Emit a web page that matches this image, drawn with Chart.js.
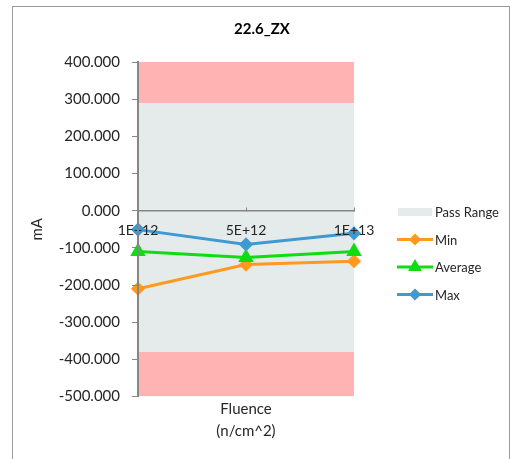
<!DOCTYPE html>
<html>
<head>
<meta charset="utf-8">
<script src="https://cdn.jsdelivr.net/npm/chart.js@4/dist/chart.umd.min.js"></script>
<style>
  html, body { margin: 0; padding: 0; background: #ffffff; }
  #wrap { position: relative; width: 517px; height: 459px; }
</style>
</head>
<body>
<div id="wrap"><canvas id="c" width="517" height="459"></canvas></div>
<script>
// Fluence levels on the x axis
const categories = ['1E+12', '5E+12', '1E+13'];

// Measured current (mA) per fluence level
const minValues = [-210, -145, -136];
const avgValues = [-110, -126, -110];
const maxValues = [-51, -91, -61];

// Pass limits (mA) and y-axis range
const passHigh = 290;
const passLow = -380;
const axisMin = -500;
const axisMax = 400;
const axisStep = 100;

const FONT = 'Lato, "Open Sans", sans-serif';
const TEXT = '#262626';

const flat = v => categories.map(() => v);

// Outer frame around the whole chart
const framePlugin = {
  id: 'frame',
  beforeDraw(chart) {
    const ctx = chart.ctx;
    ctx.save();
    ctx.fillStyle = '#ffffff';
    ctx.fillRect(0, 0, chart.width, chart.height);
    ctx.strokeStyle = '#9a9a9a';
    ctx.lineWidth = 1;
    ctx.strokeRect(12.5, 6.5, 497, 470);
    ctx.restore();
  }
};

// Legend on the right: a swatch for the pass band, line + marker for series
const sideLegend = {
  id: 'sideLegend',
  afterDraw(chart) {
    const ctx = chart.ctx;
    const x0 = 397, x1 = 433, tx = 435;
    let y = 212;
    const rowGap = 27.5;
    ctx.save();
    ctx.font = '13px ' + FONT;
    ctx.textBaseline = 'middle';
    ctx.textAlign = 'left';
    chart.data.datasets.forEach(ds => {
      if (!ds.label) return;
      if (ds.legendKind === 'band') {
        ctx.fillStyle = ds.backgroundColor;
        ctx.fillRect(x0 + 1, y - 4, x1 - x0 - 2, 8);
      } else {
        ctx.strokeStyle = ds.borderColor;
        ctx.lineWidth = 3;
        ctx.beginPath();
        ctx.moveTo(x0, y);
        ctx.lineTo(x1, y);
        ctx.stroke();
        ctx.fillStyle = ds.borderColor;
        ctx.strokeStyle = ds.borderColor;
        Chart.helpers.drawPoint(ctx, {
          pointStyle: ds.pointStyle,
          radius: ds.pointStyle === 'triangle' ? 5 : 4,
          rotation: 0,
          borderWidth: 1
        }, (x0 + x1) / 2, y);
      }
      ctx.fillStyle = TEXT;
      ctx.fillText(ds.label, tx, y + 1);
      y += rowGap;
    });
    ctx.restore();
  }
};

const PINK = '#ffb3b3';
const PASS = '#e5ebeb';

new Chart(document.getElementById('c'), {
  type: 'line',
  data: {
    labels: categories,
    datasets: [
      {
        data: flat(axisMax), fill: { value: passHigh }, backgroundColor: PINK,
        borderWidth: 0, pointRadius: 0, order: 10
      },
      {
        label: 'Pass Range', legendKind: 'band',
        data: flat(passHigh), fill: { value: passLow }, backgroundColor: PASS,
        borderWidth: 0, pointRadius: 0, order: 10
      },
      {
        data: flat(axisMin), fill: { value: passLow }, backgroundColor: PINK,
        borderWidth: 0, pointRadius: 0, order: 10
      },
      {
        label: 'Min', data: minValues, borderColor: '#ff9a1f', backgroundColor: '#ff9a1f',
        borderWidth: 3, pointStyle: 'rectRot', pointRadius: 5, fill: false, order: 3
      },
      {
        label: 'Average', data: avgValues, borderColor: '#10dd10', backgroundColor: '#10dd10',
        borderWidth: 3, pointStyle: 'triangle', pointRadius: 6, fill: false, order: 2
      },
      {
        label: 'Max', data: maxValues, borderColor: '#3d9ad3', backgroundColor: '#3d9ad3',
        borderWidth: 3, pointStyle: 'rectRot', pointRadius: 5, fill: false, order: 1
      }
    ]
  },
  options: {
    responsive: false,
    animation: false,
    events: [],
    elements: { line: { tension: 0 } },
    layout: { padding: { left: 12, right: 5, top: 0, bottom: 0 } },
    plugins: {
      legend: { display: false },
      tooltip: { enabled: false },
      title: {
        display: true,
        text: '22.6_ZX',
        color: '#000000',
        font: { family: FONT, size: 15, weight: 'bold', lineHeight: 1.2 },
        padding: { top: 20, bottom: 24 }
      }
    },
    scales: {
      x: {
        type: 'category',
        position: { y: 0 },
        offset: false,
        grid: { drawOnChartArea: false, drawTicks: true, tickLength: -4, color: '#868686', z: 1 },
        border: { display: true, color: '#868686', width: 1.5, z: 1 },
        ticks: { color: TEXT, font: { family: FONT, size: 14 }, padding: 15, maxRotation: 0, z: 1 }
      },
      x2: {
        type: 'category',
        position: 'bottom',
        labels: categories,
        grid: { display: false, drawTicks: false },
        border: { display: false },
        ticks: { display: false },
        title: {
          display: true,
          text: ['Fluence', '(n/cm^2)'],
          color: TEXT,
          font: { family: FONT, size: 15, lineHeight: 1.45 },
          padding: { top: 2, bottom: 17 }
        }
      },
      y: {
        min: axisMin,
        max: axisMax,
        grid: { drawOnChartArea: false, drawTicks: true, tickLength: 6, color: '#868686', z: 1 },
        border: { display: true, color: '#868686', width: 2, z: 1 },
        ticks: {
          stepSize: axisStep,
          color: TEXT,
          font: { family: FONT, size: 15 },
          padding: 12,
          z: 1,
          callback: v => Number(v).toFixed(3)
        },
        title: {
          display: true,
          text: 'mA',
          color: TEXT,
          font: { family: FONT, size: 15, lineHeight: 1.2 },
          padding: { top: 16, bottom: 0 }
        },
        afterFit(scale) { scale.width = 126; }
      },
      // empty axis reserving the space used by the legend
      yRight: {
        position: 'right',
        min: axisMin,
        max: axisMax,
        grid: { display: false, drawTicks: false },
        border: { display: false },
        ticks: { display: false },
        afterFit(scale) { scale.width = 158; }
      }
    }
  },
  plugins: [framePlugin, sideLegend]
});
</script>
</body>
</html>
